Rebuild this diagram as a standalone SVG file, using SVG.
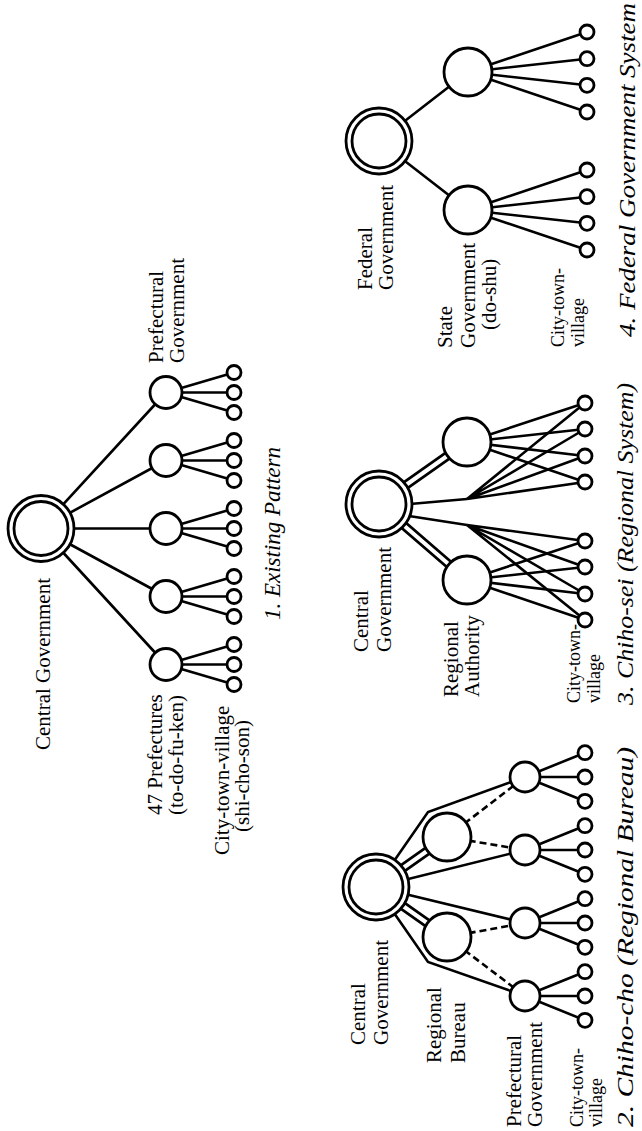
<svg xmlns="http://www.w3.org/2000/svg" width="642" height="1131" viewBox="0 0 642 1131">
<style>
.c{fill:#fff;stroke:#000;stroke-width:2.8}
.l{stroke:#000;stroke-width:2.6;fill:none;stroke-linejoin:miter}
.d{stroke-dasharray:7 4}
.w1{stroke:#000;stroke-width:9.5;fill:none}
.w2{stroke:#fff;stroke-width:4;fill:none}
.t{font-family:"Liberation Serif",serif;font-size:21px;fill:#000}
.s{font-size:18px}
.cap{font-family:"Liberation Serif",serif;font-style:italic;font-size:24px;fill:#000}
</style>
<rect width="642" height="1131" fill="#fff"/>
<g id="connectors">
<path class="l" d="M41,528.5L166,392.5M41,528.5L166,460.5M41,528.5L166,528.5M41,528.5L166,596.5M41,528.5L166,664.5"/>
<path class="l" d="M166,392.5L234,372.5M166,392.5L234,392.5M166,392.5L234,412.5M166,460.5L234,440.5M166,460.5L234,460.5M166,460.5L234,480.5M166,528.5L234,508.5M166,528.5L234,528.5M166,528.5L234,548.5M166,596.5L234,576.5M166,596.5L234,596.5M166,596.5L234,616.5M166,664.5L234,644.5M166,664.5L234,664.5M166,664.5L234,684.5"/>
<path class="l" d="M379,141L468,72M379,141L468,210"/>
<path class="l" d="M468,72L587,32M468,72L587,58.7M468,72L587,85.3M468,72L587,112M468,210L587,170M468,210L587,196.7M468,210L587,223.3M468,210L587,250"/>
<path class="w1" d="M379,504L467,442M379,504L467,580"/>
<path class="w2" d="M379,504L467,442M379,504L467,580"/>
<path class="l" d="M410,504L467,499M409,516L467,525"/>
<path class="l" d="M467,499L585,403M467,499L585,429M467,499L585,456M467,499L585,482M467,525L585,541M467,525L585,567M467,525L585,594M467,525L585,620"/>
<path class="l" d="M467,442L585,403M467,442L585,429M467,442L585,456M467,442L585,482M467,580L585,541M467,580L585,567M467,580L585,594M467,580L585,620"/>
<path class="w1" d="M376,887L447,837M376,887L447,937"/>
<path class="w2" d="M376,887L447,837M376,887L447,937"/>
<path class="l" d="M376,887L525,850M376,887L525,923M376,887L428,812L525,777M376,887L428,962L525,996"/>
<path class="l d" d="M447,837L525,777M447,837L525,850M447,937L525,923M447,937L525,996"/>
<path class="l" d="M525,777L585,752.7M525,777L585,777M525,777L585,801.3M525,850L585,825.7M525,850L585,850M525,850L585,874.3M525,923L585,898.7M525,923L585,923M525,923L585,947.3M525,996L585,971.7M525,996L585,996M525,996L585,1020.3"/>
</g>
<g id="d1-central"><circle class="c" cx="41" cy="528.5" r="33"/><circle class="c" cx="41" cy="528.5" r="27"/><text class="t" transform="translate(50,750) rotate(-90)">Central Government</text></g>
<g id="d1-prefectures">
<circle class="c" cx="166" cy="392.5" r="16"/><circle class="c" cx="166" cy="460.5" r="16"/><circle class="c" cx="166" cy="528.5" r="16"/><circle class="c" cx="166" cy="596.5" r="16"/><circle class="c" cx="166" cy="664.5" r="16"/>
<text class="t" transform="translate(163,363) rotate(-90)">Prefectural</text><text class="t" transform="translate(184,363) rotate(-90)">Government</text>
<text class="t" transform="translate(162,815) rotate(-90)">47 Prefectures</text><text class="t" transform="translate(183,815) rotate(-90)">(to-do-fu-ken)</text>
</g>
<g id="d1-municipalities">
<circle class="c" cx="234" cy="372.5" r="7"/><circle class="c" cx="234" cy="392.5" r="7"/><circle class="c" cx="234" cy="412.5" r="7"/>
<circle class="c" cx="234" cy="440.5" r="7"/><circle class="c" cx="234" cy="460.5" r="7"/><circle class="c" cx="234" cy="480.5" r="7"/>
<circle class="c" cx="234" cy="508.5" r="7"/><circle class="c" cx="234" cy="528.5" r="7"/><circle class="c" cx="234" cy="548.5" r="7"/>
<circle class="c" cx="234" cy="576.5" r="7"/><circle class="c" cx="234" cy="596.5" r="7"/><circle class="c" cx="234" cy="616.5" r="7"/>
<circle class="c" cx="234" cy="644.5" r="7"/><circle class="c" cx="234" cy="664.5" r="7"/><circle class="c" cx="234" cy="684.5" r="7"/>
<text class="t" font-size="18.5" transform="translate(229,855) rotate(-90)">City-town-village</text><text class="t" font-size="18.5" transform="translate(249,832) rotate(-90)">(shi-cho-son)</text>
</g>
<text class="cap" textLength="173" lengthAdjust="spacingAndGlyphs" transform="translate(280,620) rotate(-90)">1. Existing Pattern</text>
<g id="d4-federal"><circle class="c" cx="379" cy="141" r="33"/><circle class="c" cx="379" cy="141" r="27"/><text class="t" transform="translate(372,290) rotate(-90)">Federal</text><text class="t" transform="translate(393,290) rotate(-90)">Government</text></g>
<g id="d4-states"><circle class="c" cx="468" cy="72" r="24"/><circle class="c" cx="468" cy="210" r="24"/>
<text class="t" transform="translate(452,348) rotate(-90)">State</text><text class="t" transform="translate(475,348) rotate(-90)">Government</text><text class="t" transform="translate(496,330) rotate(-90)">(do-shu)</text></g>
<g id="d4-municipalities">
<circle class="c" cx="587" cy="32" r="7"/><circle class="c" cx="587" cy="58.7" r="7"/><circle class="c" cx="587" cy="85.3" r="7"/><circle class="c" cx="587" cy="112" r="7"/>
<circle class="c" cx="587" cy="170" r="7"/><circle class="c" cx="587" cy="196.7" r="7"/><circle class="c" cx="587" cy="223.3" r="7"/><circle class="c" cx="587" cy="250" r="7"/>
<text class="t s" transform="translate(564,347) rotate(-90)">City-town-</text><text class="t s" transform="translate(584,347) rotate(-90)">village</text></g>
<text class="cap" textLength="334" lengthAdjust="spacingAndGlyphs" transform="translate(635,337) rotate(-90)">4. Federal Government System</text>
<g id="d3-central"><circle class="c" cx="379" cy="504" r="33"/><circle class="c" cx="379" cy="504" r="27"/><text class="t" transform="translate(368,652) rotate(-90)">Central</text><text class="t" transform="translate(391,652) rotate(-90)">Government</text></g>
<g id="d3-regional"><circle class="c" cx="467" cy="442" r="24"/><circle class="c" cx="467" cy="580" r="24"/><text class="t" transform="translate(458,697) rotate(-90)">Regional</text><text class="t" transform="translate(479,697) rotate(-90)">Authority</text></g>
<g id="d3-municipalities">
<circle class="c" cx="585" cy="403" r="7"/><circle class="c" cx="585" cy="429" r="7"/><circle class="c" cx="585" cy="456" r="7"/><circle class="c" cx="585" cy="482" r="7"/>
<circle class="c" cx="585" cy="541" r="7"/><circle class="c" cx="585" cy="567" r="7"/><circle class="c" cx="585" cy="594" r="7"/><circle class="c" cx="585" cy="620" r="7"/>
<text class="t s" transform="translate(580,703) rotate(-90)">City-town-</text><text class="t s" transform="translate(600,703) rotate(-90)">village</text></g>
<text class="cap" textLength="322" lengthAdjust="spacingAndGlyphs" transform="translate(633,705) rotate(-90)">3. Chiho-sei (Regional System)</text>
<g id="d2-central"><circle class="c" cx="376" cy="887" r="33"/><circle class="c" cx="376" cy="887" r="27"/><text class="t" transform="translate(365,1045) rotate(-90)">Central</text><text class="t" transform="translate(388,1045) rotate(-90)">Government</text></g>
<g id="d2-bureaus"><circle class="c" cx="447" cy="837" r="24"/><circle class="c" cx="447" cy="937" r="24"/><text class="t" transform="translate(441,1063) rotate(-90)">Regional</text><text class="t" transform="translate(465,1063) rotate(-90)">Bureau</text></g>
<g id="d2-prefectures"><circle class="c" cx="525" cy="777" r="15"/><circle class="c" cx="525" cy="850" r="15"/><circle class="c" cx="525" cy="923" r="15"/><circle class="c" cx="525" cy="996" r="15"/>
<text class="t" transform="translate(521,1127) rotate(-90)">Prefectural</text><text class="t" transform="translate(542,1127) rotate(-90)">Government</text></g>
<g id="d2-municipalities">
<circle class="c" cx="585" cy="752.7" r="7"/><circle class="c" cx="585" cy="777" r="7"/><circle class="c" cx="585" cy="801.3" r="7"/>
<circle class="c" cx="585" cy="825.7" r="7"/><circle class="c" cx="585" cy="850" r="7"/><circle class="c" cx="585" cy="874.3" r="7"/>
<circle class="c" cx="585" cy="898.7" r="7"/><circle class="c" cx="585" cy="923" r="7"/><circle class="c" cx="585" cy="947.3" r="7"/>
<circle class="c" cx="585" cy="971.7" r="7"/><circle class="c" cx="585" cy="996" r="7"/><circle class="c" cx="585" cy="1020.3" r="7"/>
<text class="t s" transform="translate(583,1127) rotate(-90)">City-town-</text><text class="t s" transform="translate(602,1127) rotate(-90)">village</text></g>
<text class="cap" textLength="380" lengthAdjust="spacingAndGlyphs" transform="translate(633,1127) rotate(-90)">2. Chiho-cho (Regional Bureau)</text>
</svg>
